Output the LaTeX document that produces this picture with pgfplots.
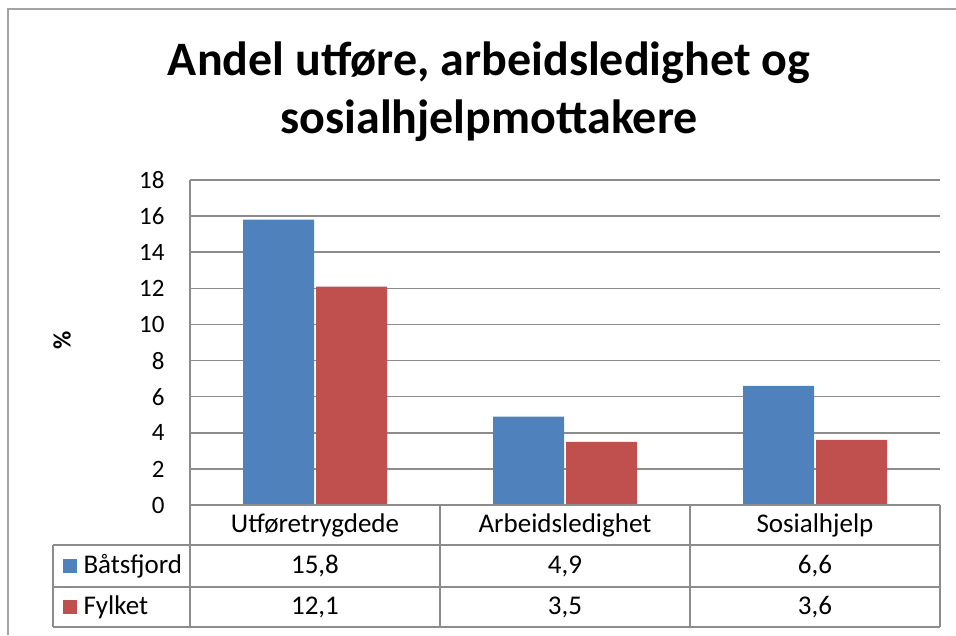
\documentclass[border=0pt]{standalone}
\usepackage{fontspec}
\setmainfont{Carlito}
\usepackage{pgfplots}
\pgfplotsset{compat=1.18}
\definecolor{bblue}{HTML}{4F81BD}
\definecolor{bred}{HTML}{C0504D}
\definecolor{gridg}{HTML}{8C8C8C}
\begin{document}
\begin{tikzpicture}[x=1pt,y=1pt]
\path[use as bounding box] (0,0) rectangle (956,635);
% outer chart border
\draw[gridg!80, line width=2pt] (8,0) -- (8,626) -- (956,626);
% title
\node[font=\fontsize{48}{58}\selectfont\bfseries, align=center] at (489,543) {Andel utføre, arbeidsledighet og\\sosialhjelpmottakere};
% y label
\node[font=\fontsize{25}{28}\selectfont\bfseries, rotate=90] at (62,295) {\%};
\begin{axis}[
  at={(190pt,130pt)}, anchor=south west,
  scale only axis, width=750pt, height=325pt,
  xmin=-0.5, xmax=2.5, ymin=0, ymax=18,
  ytick={0,2,...,18},
  xtick=\empty,
  ymajorgrids, grid style={gridg, line width=1.5pt},
  axis line style={draw=none},
  major tick length=0pt,
  yticklabel style={font=\fontsize{25}{28}\selectfont, xshift=-22pt},
  /pgf/number format/assume math mode=true,
  ybar, bar width=71pt, bar shift auto,
  every axis plot/.append style={draw=none},
  clip=false,
]
\addplot[fill=bblue, draw=none] coordinates {(0,15.8) (1,4.9) (2,6.6)};
\addplot[fill=bred, draw=none] coordinates {(0,12.1) (1,3.5) (2,3.6)};
\end{axis}
% left axis line and data table
\begin{scope}[gridg, line width=1.5pt]
\draw (190,455) -- (190,8);
\draw (190,130) -- (940,130);
\draw (53,90) -- (940,90);
\draw (53,48) -- (940,48);
\draw (53,8) -- (940,8);
\draw (53,90) -- (53,8);
\draw (440,130) -- (440,8);
\draw (690,130) -- (690,8);
\draw (940,130) -- (940,8);
\end{scope}
\begin{scope}[font=\fontsize{27}{30}\selectfont]
\node at (315,110) {Utføretrygdede};
\node at (565,110) {Arbeidsledighet};
\node at (815,110) {Sosialhjelp};
\node at (315,69) {15,8};
\node at (565,69) {4,9};
\node at (815,69) {6,6};
\node at (315,28) {12,1};
\node at (565,28) {3,5};
\node at (815,28) {3,6};
\fill[bblue] (63,62) rectangle (77,76);
\fill[bred] (63,21) rectangle (77,35);
\node[anchor=west] at (80,69) {Båtsfjord};
\node[anchor=west] at (80,28) {Fylket};
\end{scope}
\end{tikzpicture}
\end{document}
